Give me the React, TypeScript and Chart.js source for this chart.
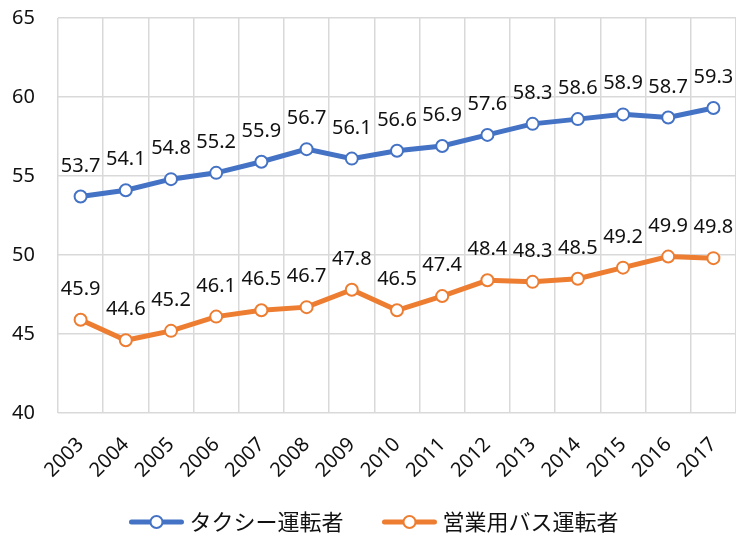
import React, { useEffect, useRef } from "react";
import { Chart, registerables } from "chart.js";

Chart.register(...registerables);

const years = ["2003","2004","2005","2006","2007","2008","2009","2010","2011","2012","2013","2014","2015","2016","2017"];
const taxiDrivers = [53.7, 54.1, 54.8, 55.2, 55.9, 56.7, 56.1, 56.6, 56.9, 57.6, 58.3, 58.6, 58.9, 58.7, 59.3];
const busDrivers = [45.9, 44.6, 45.2, 46.1, 46.5, 46.7, 47.8, 46.5, 47.4, 48.4, 48.3, 48.5, 49.2, 49.9, 49.8];
const seriesNames = ["タクシー運転者", "営業用バス運転者"];
const seriesColors = ["#4472C4", "#ED7D31"];
const yMin = 40;
const yMax = 65;
const yStep = 5;

const NUM_FONT = '"Noto Sans", "DejaVu Sans", sans-serif';
const JP_FONT = '"Noto Sans CJK JP", "Noto Sans", sans-serif';
const TEXT_COLOR = "#111111";
const GRID_COLOR = "#d9d9d9";

const dataLabelPlugin = {
  id: "dataLabels",
  afterDatasetsDraw(chart: any) {
    const ctx = chart.ctx;
    ctx.save();
    ctx.font = `20px ${NUM_FONT}`;
    ctx.fillStyle = TEXT_COLOR;
    ctx.textAlign = "center";
    ctx.textBaseline = "alphabetic";
    chart.data.datasets.forEach((ds: any, i: number) => {
      const meta = chart.getDatasetMeta(i);
      meta.data.forEach((pt: any, j: number) => {
        const v = ds.data[j] as number;
        ctx.fillText(v.toFixed(1), pt.x, pt.y - 25);
      });
    });
    ctx.restore();
  },
};

const customLegendPlugin = {
  id: "customLegend",
  afterDraw(chart: any) {
    const ctx = chart.ctx;
    ctx.save();
    ctx.font = `22px ${JP_FONT}`;
    const sampleW = 54;
    const gap = 6;
    const itemGap = 39;
    const items = chart.data.datasets.map((ds: any) => ({
      label: ds.label as string,
      color: ds.borderColor as string,
      tw: ctx.measureText(ds.label).width,
    }));
    const total =
      items.reduce((s: number, it: any) => s + sampleW + gap + it.tw, 0) +
      itemGap * (items.length - 1);
    const cy = 522;
    let x = 374 - total / 2;
    items.forEach((it: any) => {
      ctx.strokeStyle = it.color;
      ctx.lineWidth = 5;
      ctx.lineCap = "round";
      ctx.beginPath();
      ctx.moveTo(x + 2, cy);
      ctx.lineTo(x + sampleW - 2, cy);
      ctx.stroke();
      ctx.beginPath();
      ctx.arc(x + sampleW / 2, cy, 6, 0, Math.PI * 2);
      ctx.fillStyle = "#ffffff";
      ctx.fill();
      ctx.lineWidth = 2;
      ctx.stroke();
      ctx.fillStyle = TEXT_COLOR;
      ctx.textAlign = "left";
      ctx.textBaseline = "middle";
      ctx.fillText(it.label, x + sampleW + gap, cy);
      x += sampleW + gap + it.tw + itemGap;
    });
    ctx.restore();
  },
};

export default function App() {
  const canvasRef = useRef<HTMLCanvasElement | null>(null);

  useEffect(() => {
    if (!canvasRef.current) return;
    const mkDs = (label: string, data: number[], color: string) => ({
      label,
      data,
      borderColor: color,
      backgroundColor: "#ffffff",
      borderWidth: 5,
      pointRadius: 6,
      pointHoverRadius: 6,
      pointBorderWidth: 2,
      pointBackgroundColor: "#ffffff",
      pointBorderColor: color,
      tension: 0,
      fill: false,
      clip: false,
    });
    const chart = new Chart(canvasRef.current, {
      type: "line",
      data: {
        labels: years,
        datasets: [
          mkDs(seriesNames[0], taxiDrivers, seriesColors[0]),
          mkDs(seriesNames[1], busDrivers, seriesColors[1]),
        ],
      },
      options: {
        responsive: false,
        animation: false,
        layout: { autoPadding: false, padding: { top: 18, left: 0, right: 0, bottom: 0 } },
        plugins: {
          legend: { display: false },
          tooltip: { enabled: false },
        },
        scales: {
          x: {
            type: "category",
            offset: true,
            grid: {
              offset: true,
              color: GRID_COLOR,
              lineWidth: 1.5,
              drawTicks: false,
            },
            border: { display: false },
            ticks: {
              autoSkip: false,
              minRotation: 45,
              maxRotation: 45,
              padding: 20,
              labelOffset: 0,
              color: TEXT_COLOR,
              font: { family: NUM_FONT, size: 20 },
            },
            afterFit: (s: any) => {
              s.height = 120;
              s.paddingLeft = 0;
              s.paddingRight = 0;
            },
          },
          y: {
            min: yMin,
            max: yMax,
            grid: {
              color: GRID_COLOR,
              lineWidth: 1.5,
              drawTicks: false,
            },
            border: { display: false },
            ticks: {
              stepSize: yStep,
              padding: 23,
              color: TEXT_COLOR,
              font: { family: NUM_FONT, size: 20 },
            },
            afterFit: (s: any) => {
              s.width = 58;
              s.paddingTop = 0;
              s.paddingBottom = 0;
            },
          },
        },
      },
      plugins: [dataLabelPlugin, customLegendPlugin],
    } as any);
    return () => chart.destroy();
  }, []);

  return (
    <div style={{ position: "absolute", left: 0, top: 0, width: 736, height: 533, background: "#ffffff" }}>
      <canvas ref={canvasRef} width={736} height={533} style={{ display: "block" }} />
    </div>
  );
}
